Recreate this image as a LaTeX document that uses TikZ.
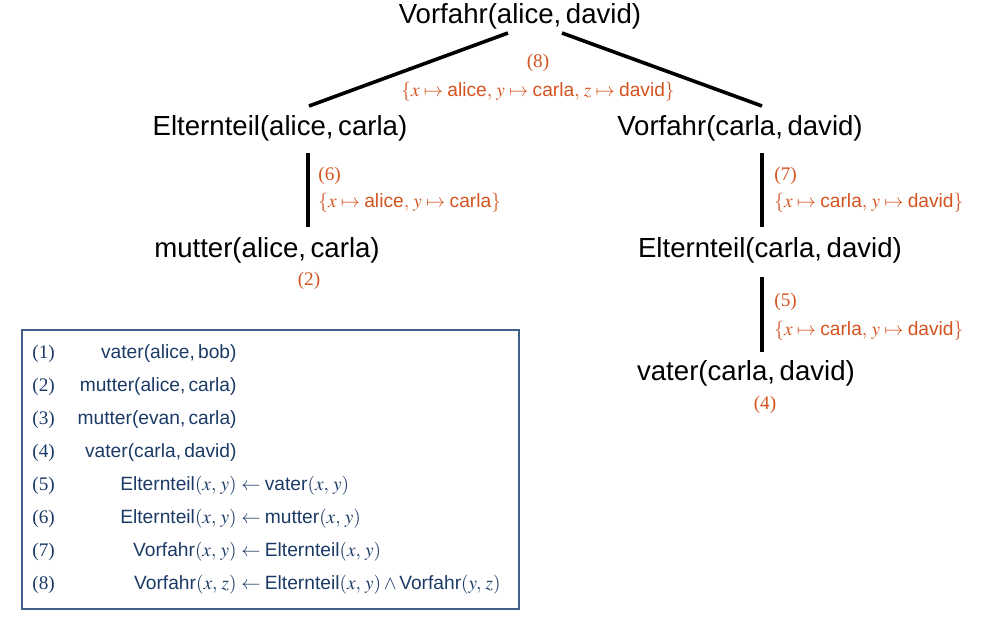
\documentclass[tikz,border=0pt]{standalone}
\usepackage{amsmath}
\usepackage{mathptmx}
\usepackage{fontspec}
\setmainfont{Liberation Serif}
\setsansfont{Liberation Sans}
\usepackage{tikz}
\usetikzlibrary{calc}
\usepackage{xcolor}
\definecolor{substcol}{HTML}{D5531F}
\definecolor{rulecol}{HTML}{1B3A66}
\definecolor{framecol}{HTML}{41618A}

\tikzset{
  term/.style={font=\fontsize{13.8}{16}\selectfont\sffamily,inner sep=0pt},
  subst/.style={text=substcol,font=\fontsize{9.6}{11}\selectfont,inner sep=0pt},
  rulerow/.style={text=rulecol,font=\fontsize{9.6}{11}\selectfont,inner sep=0pt},
  edge/.style={line width=1.8pt}
}

\begin{document}
\begin{tikzpicture}[x=0.5pt,y=-0.5pt]
\useasboundingbox (0,0) rectangle (990,621);
% derivation tree
\node[term] (root) at (520,16) {Vorfahr(alice,\,david)};
\node[term] (eltAC) at (280,128) {Elternteil(alice,\,carla)};
\node[term] (vorCD) at (740,128) {Vorfahr(carla,\,david)};
\node[term] (mutAC) at (267,250) {mutter(alice,\,carla)};
\node[term] (eltCD) at (770,250) {Elternteil(carla,\,david)};
\node[term] (vatCD) at (746,373) {vater(carla,\,david)};
\draw[edge] ([shift={(-12,17)}]root.center) -- ([shift={(29,-22)}]eltAC.center);
\draw[edge] ([shift={(42,17)}]root.center) -- ([shift={(22,-22)}]vorCD.center);
\draw[edge] ([shift={(28,25)}]eltAC.center) -- ([shift={(41,-23)}]mutAC.center);
\draw[edge] ([shift={(22,25)}]vorCD.center) -- ([shift={(-8,-23)}]eltCD.center);
\draw[edge] ([shift={(-8,27)}]eltCD.center) -- ([shift={(16,-21)}]vatCD.center);
% substitutions
\node[subst] (lab8) at (538,63) {(8)};
\node[subst] (sub8) at (538,92) {$\{x \mapsto \textsf{alice},\, y \mapsto \textsf{carla},\, z \mapsto \textsf{david}\}$};
\node[subst,anchor=west] (lab6) at (318,176) {(6)};
\node[subst,anchor=west] (sub6) at (318,203) {$\{x \mapsto \textsf{alice},\, y \mapsto \textsf{carla}\}$};
\node[subst,anchor=west] (lab7) at (774,176) {(7)};
\node[subst,anchor=west] (sub7) at (774,203) {$\{x \mapsto \textsf{carla},\, y \mapsto \textsf{david}\}$};
\node[subst,anchor=west] (lab5) at (774,302) {(5)};
\node[subst,anchor=west] (sub5) at (774,331) {$\{x \mapsto \textsf{carla},\, y \mapsto \textsf{david}\}$};
\node[subst] (lab2) at (309,281) {(2)};
\node[subst] (lab4) at (765,405) {(4)};
% program
\draw[framecol,line width=0.8pt] (22,330) rectangle (519,609);
\foreach \n/\lhs/\rhs in {
  1/{\textsf{vater(alice,\,bob)}}/{},
  2/{\textsf{mutter(alice,\,carla)}}/{},
  3/{\textsf{mutter(evan,\,carla)}}/{},
  4/{\textsf{vater(carla,\,david)}}/{},
  5/{$\textsf{Elternteil}(x,\,y)$}/{$\leftarrow \textsf{vater}(x,\,y)$},
  6/{$\textsf{Elternteil}(x,\,y)$}/{$\leftarrow \textsf{mutter}(x,\,y)$},
  7/{$\textsf{Vorfahr}(x,\,y)$}/{$\leftarrow \textsf{Elternteil}(x,\,y)$},
  8/{$\textsf{Vorfahr}(x,\,z)$}/{$\leftarrow \textsf{Elternteil}(x,\,y) \wedge \textsf{Vorfahr}(y,\,z)$}} {
  \node[rulerow,anchor=west] (num\n) at (32,{354+33*(\n-1)}) {(\n)};
  \node[rulerow,anchor=east] (lhs\n) at (237,{354+33*(\n-1)}) {\lhs};
  \node[rulerow,anchor=west] (rhs\n) at (241,{354+33*(\n-1)}) {\rhs};
}
\end{tikzpicture}
\end{document}
